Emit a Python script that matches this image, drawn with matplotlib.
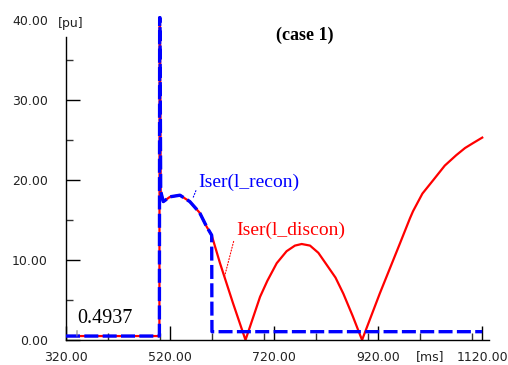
"""Iser 比較プロット (case 1) の再現。"""
import matplotlib
matplotlib.use("Agg")
import matplotlib.pyplot as plt
from matplotlib.ticker import MultipleLocator

# 故障前 + 故障直後 (両ケース共通)
t_common = [320, 499.5, 500, 500.6, 502, 507, 520, 539, 558, 577, 590, 600]
i_common = [0.4937, 0.4937, 40.3, 40.3, 18.6, 17.3, 17.9, 18.1, 17.3, 15.9, 14.2, 13.1]

# 再閉路 (l_recon) : 600ms で低下
t_recon = [600, 600.5, 1120]
i_recon = [13.1, 1.04, 1.04]

# 切離し (l_discon)
t_discon = [600, 616, 641, 665, 693, 707, 725, 744, 760, 773, 789, 805, 821,
            838, 853, 871, 889, 923, 949, 962, 981, 987, 1005, 1026, 1048,
            1070, 1087, 1102, 1120]
i_discon = [13.1, 9.6, 4.6, 0.0, 5.4, 7.4, 9.6, 11.1, 11.8, 12.0, 11.8, 10.9,
            9.4, 7.8, 5.8, 3.0, 0.0, 5.8, 10.0, 12.1, 15.2, 16.1, 18.3, 20.0,
            21.8, 23.1, 24.0, 24.6, 25.3]

x_ticks = [320, 520, 720, 920, 1120]
y_ticks = [0, 10, 20, 30, 40]

serif = "Liberation Serif"

fig = plt.figure(figsize=(5.08, 3.65), dpi=100)
ax = fig.add_axes([66 / 508, 25 / 365, 423 / 508, 324 / 365])

# 赤(実線)を下、青(破線)を上
ax.plot(t_common + t_discon, i_common + i_discon, color="red", lw=1.6, zorder=2,
        solid_joinstyle="round")
ax.plot(t_common + t_recon, i_common + i_recon, color="#0000ff", lw=2.4,
        dashes=(4.2, 1.3), zorder=3)

ax.set_xlim(320, 1133)
ax.set_ylim(0, 40.5)

for s in ("top", "right"):
    ax.spines[s].set_visible(False)
ax.spines["left"].set_bounds(0, 37.9)
ax.spines["left"].set_linewidth(1.0)
ax.spines["bottom"].set_linewidth(1.0)

ax.set_xticks(x_ticks)
ax.set_xticklabels([f"{v:.2f}" for v in x_ticks])
ax.set_yticks(y_ticks)
ax.set_yticklabels([f"{v:.2f}" for v in y_ticks])
ax.xaxis.set_minor_locator(MultipleLocator(100))
ax.yaxis.set_minor_locator(MultipleLocator(5))
ax.tick_params(which="major", direction="in", length=10, width=1.0,
               labelsize=9, colors="black")
ax.tick_params(axis="y", which="major", pad=13)
ax.tick_params(axis="x", which="major", pad=8)
ax.tick_params(which="minor", direction="in", length=5, width=1.0, color="#333333")
ax.yaxis.get_major_ticks()[-1].tick1line.set_visible(False)
for lab in ax.get_xticklabels() + ax.get_yticklabels():
    lab.set_color("#222222")

# 単位
fig.text(71 / 508, 1 - 23 / 365, "[pu]", fontsize=9, color="#222222",
         ha="center", va="center")
ax.text(1020, -(357 - 340) / 324, "[ms]", transform=ax.get_xaxis_transform(),
        fontsize=9, color="#222222", ha="center", va="center")

fig.text(305 / 508, 1 - 35 / 365, "(case 1)", family=serif, fontsize=13,
         fontweight="bold", ha="center", va="center")

ax.annotate("0.4937", xy=(341, 0.4937), xytext=(342, 3.9), family=serif,
            fontsize=14.5, ha="left", va="top",
            arrowprops=dict(arrowstyle="-", color="#888888", lw=0.8,
                            relpos=(0, 1), shrinkA=0, shrinkB=0))
ax.annotate("Iser(l_recon)", xy=(564, 17.75), xytext=(575, 19.75), family=serif,
            fontsize=14, color="#0000ff", ha="left", va="center",
            arrowprops=dict(arrowstyle="-", color="#0000ff", lw=0.8, ls=":",
                            relpos=(0, 0.4), shrinkA=0, shrinkB=0))
ax.annotate("Iser(l_discon)", xy=(625, 8.0), xytext=(647, 13.75), family=serif,
            fontsize=14, color="red", ha="left", va="center",
            arrowprops=dict(arrowstyle="-", color="red", lw=0.8, ls=":",
                            relpos=(0, 0.4), shrinkA=0, shrinkB=0))

plt.savefig("out.png", dpi=100)
plt.close()
